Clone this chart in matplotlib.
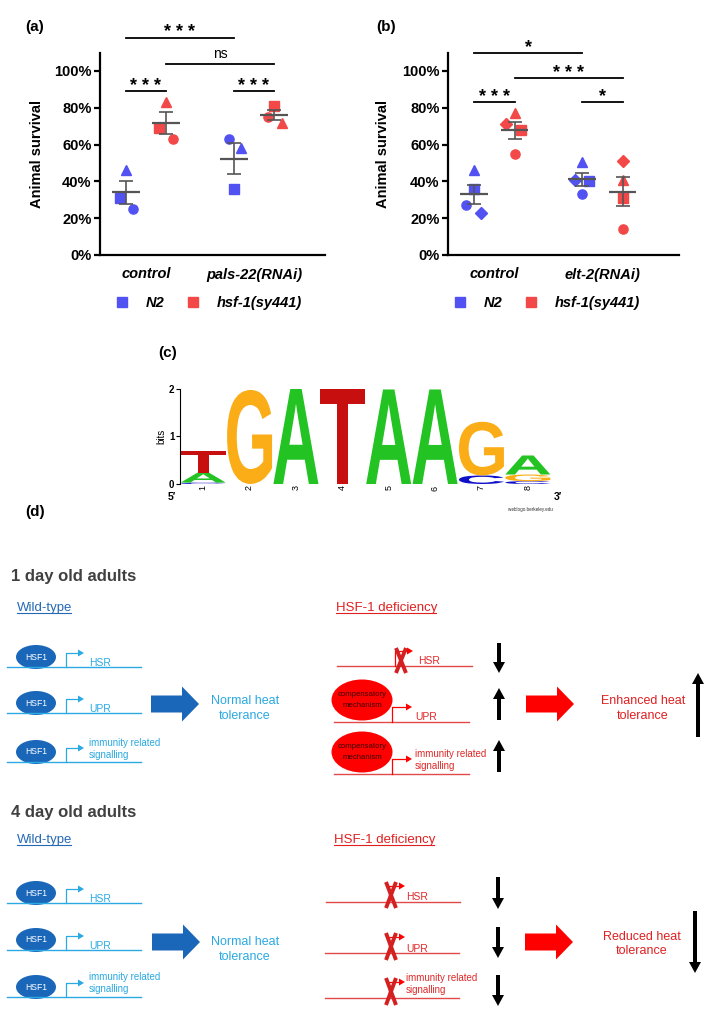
import numpy as np
import matplotlib
matplotlib.use('Agg')
import matplotlib.pyplot as plt
from matplotlib.patches import Ellipse, FancyArrow, PathPatch, Polygon
from matplotlib.textpath import TextPath
from matplotlib.font_manager import FontProperties
from matplotlib.transforms import Affine2D
from matplotlib.lines import Line2D

plt.rcParams['font.family'] = ['Liberation Sans', 'DejaVu Sans']

W, H = 709, 1022
fig = plt.figure(figsize=(W / 100, H / 100), dpi=100)

# ---------------- data ----------------
strains = ['N2', 'hsf-1(sy441)']
groups_a = ['control', 'pals-22(RNAi)']
groups_b = ['control', 'elt-2(RNAi)']

# panel a : replicates as square, triangle, circle
shapes_a = ['s', '^', 'o']
a_control_n2 = [31, 46, 25]
a_control_hsf = [69, 83, 63]
a_pals_n2 = [36, 58, 63]
a_pals_hsf = [81, 72, 75]
jit_a = [[-0.15, 0.0, 0.17], [-0.17, 0.0, 0.17], [0.0, 0.17, -0.12], [0.0, 0.2, -0.15]]

# panel b : replicates as square, triangle, circle, diamond
shapes_b = ['s', '^', 'o', 'D']
b_control_n2 = [36, 46, 27, 23]
b_control_hsf = [68, 77, 55, 71]
b_elt_n2 = [40, 50.5, 33, 41]
b_elt_hsf = [31, 41, 14, 51]
jit_b = [[0.0, 0.0, -0.2, 0.17], [0.17, 0.0, 0.0, -0.2], [0.17, 0.0, 0.0, -0.17], [0.0, 0.0, 0.0, 0.0]]

# significance: (left, right, height, text)
sig_a = [(0, 2.7, 118, '* * *'), (1, 3.7, 104, 'ns'), (0, 1, 89, '* * *'), (2.7, 3.7, 89, '* * *')]
sig_b = [(0, 2.67, 110, '*'), (1, 3.67, 96, '* * *'), (0, 1, 83, '* * *'), (2.67, 3.67, 83, '*')]

# panel c : sequence logo, bits per letter and position
logo_pos = [1, 2, 3, 4, 5, 6, 7, 8]
logo_A = [0.21, 0, 2.0, 0, 1.99, 1.99, 0, 0.40]
logo_C = [0.03, 0, 0, 0, 0, 0, 0.18, 0.06]
logo_G = [0, 1.98, 0, 0, 0, 0, 1.13, 0.14]
logo_T = [0.45, 0, 0, 2.0, 0, 0, 0, 0]
logo_colors = {'A': '#22c322', 'C': '#1010c8', 'G': '#fbad17', 'T': '#c80f0f'}

# panel d : texts
genes = ['HSR', 'UPR', 'immunity related\nsignalling']
ages = ['1 day old adults', '4 day old adults']
outcomes = ['Enhanced heat\ntolerance', 'Reduced heat\ntolerance']

BLUE_M = '#5252f2'
RED_M = '#f24848'
GREY = '#555555'
DBLUE = '#1a67ba'
LBLUE = '#2aa9e2'
RED = '#ff0000'
LRED = '#e24a4a'


def px_axes(x0, y0, x1, y1):
    return fig.add_axes([x0 / W, 1 - y1 / H, (x1 - x0) / W, (y1 - y0) / H])


# overlay in pixel coords for diagram + labels
dg = fig.add_axes([0, 0, 1, 1], zorder=0)
dg.set_xlim(0, W)
dg.set_ylim(H, 0)
dg.axis('off')


def txt(x, y, s, **kw):
    dg.text(x, y, s, **kw)


# ---------------- panels a, b ----------------
def strip(ax, x, vals, jit, shapes, color):
    for v, j, m in zip(vals, jit, shapes):
        ax.plot(x + j, v, marker=m, ls='none', color=color,
                ms=5.8 if m == 'D' else 6.6, clip_on=False, zorder=2)
    mean = np.mean(vals)
    sem = np.std(vals, ddof=1) / np.sqrt(len(vals))
    ax.hlines(mean, x - 0.34, x + 0.34, color=GREY, lw=1.6, zorder=3)
    ax.errorbar(x, mean, yerr=sem, color=GREY, lw=1.2, capsize=5, capthick=1.2, zorder=3)


def sig(ax, x1, x2, y, s):
    ax.plot([x1, x2], [y, y], color='k', lw=1.3, clip_on=False)
    if s == 'ns':
        ax.annotate(s, xy=((x1 + x2) / 2, y), xytext=(0, 4), textcoords='offset points',
                    ha='center', va='baseline', fontsize=10, annotation_clip=False)
    else:
        ax.annotate(s, xy=((x1 + x2) / 2, y), xytext=(0, 0.5), textcoords='offset points',
                    ha='center', va='baseline', fontsize=13, fontweight='bold',
                    annotation_clip=False)


def survival_axes(box, xlim, xs, sets, jits, shapes, groups, sigs, lab_x, leg_c):
    ax = px_axes(*box)
    ax.set_facecolor('none')
    ax.set_xlim(*xlim)
    ax.set_ylim(0, 110)
    cols = [BLUE_M, RED_M, BLUE_M, RED_M]
    for x, vals, jit, c in zip(xs, sets, jits, cols):
        strip(ax, x, vals, jit, shapes, c)
    for s in sigs:
        sig(ax, *s)
    ax.spines[['top', 'right']].set_visible(False)
    ax.spines[['left', 'bottom']].set_linewidth(1.6)
    ax.set_yticks([0, 20, 40, 60, 80, 100])
    ax.set_yticklabels(['0%', '20%', '40%', '60%', '80%', '100%'],
                       fontsize=10.5, fontweight='bold')
    ax.tick_params(axis='y', length=4, width=1.6, pad=2)
    ax.set_xticks([(xs[0] + xs[1]) / 2, (xs[2] + xs[3]) / 2])
    ax.set_xticklabels(groups, fontsize=10.5, fontweight='bold', style='italic')
    ax.tick_params(axis='x', length=0, pad=9)
    ax.set_ylabel('Animal survival', fontsize=10.5, fontweight='bold')
    ax.yaxis.set_label_coords(lab_x, 0.5)
    handles = [Line2D([], [], marker='s', ls='none', color=BLUE_M, ms=7.5),
               Line2D([], [], marker='s', ls='none', color=RED_M, ms=7.5)]
    ax.legend(handles, strains, loc='center', ncol=2, frameon=False,
              bbox_to_anchor=(leg_c / W, 1 - 303 / H), bbox_transform=fig.transFigure,
              prop={'weight': 'bold', 'style': 'italic', 'size': 10.5},
              handlelength=0.8, handletextpad=1.2, columnspacing=1.6)
    return ax


ax_a = survival_axes((100, 52.6, 325, 255), (-0.65, 4.975), [0, 1, 2.7, 3.7],
                     [a_control_n2, a_control_hsf, a_pals_n2, a_pals_hsf], jit_a,
                     shapes_a, groups_a, sig_a, -0.25, 209)
ax_b = survival_axes((448, 52.6, 679, 255), (-0.642, 5.06), [0, 1, 2.67, 3.67],
                     [b_control_n2, b_control_hsf, b_elt_n2, b_elt_hsf], jit_b,
                     shapes_b, groups_b, sig_b, -0.25, 547)

txt(25, 27, '(a)', fontsize=11, fontweight='bold', va='center')
txt(376, 27, '(b)', fontsize=11, fontweight='bold', va='center')

# ---------------- panel c : logo ----------------
ax_c = px_axes(180, 389, 551, 484)
ax_c.set_facecolor('none')
ax_c.set_xlim(0.5, 8.5)
ax_c.set_ylim(0, 2)
fp = FontProperties(family='Liberation Sans', weight='bold')


def letter(ax, ch, x, y0, h, color):
    tp = TextPath((0, 0), ch, size=1, prop=fp)
    bb = tp.get_extents()
    tr = Affine2D().translate(-bb.x0, -bb.y0).scale(0.97 / bb.width, h / bb.height) \
        .translate(x - 0.485, y0)
    ax.add_patch(PathPatch(tr.transform_path(tp), fc=color, ec='none', lw=0))


for i, p in enumerate(logo_pos):
    stack = [('A', logo_A[i]), ('C', logo_C[i]), ('G', logo_G[i]), ('T', logo_T[i])]
    stack = sorted([s for s in stack if s[1] > 0], key=lambda s: s[1])
    y0 = 0
    for ch, h in stack:
        letter(ax_c, ch, p, y0, h, logo_colors[ch])
        y0 += h

ax_c.spines[['top', 'right', 'bottom']].set_visible(False)
ax_c.spines['left'].set_linewidth(0.8)
ax_c.set_yticks([0, 1, 2])
ax_c.set_yticklabels(['0', '1', '2'], fontsize=7, fontweight='bold')
ax_c.tick_params(axis='y', length=3, width=0.8, pad=1)
ax_c.set_xticks(logo_pos)
ax_c.set_xticklabels([str(p) for p in logo_pos], fontsize=6.5, rotation=90)
ax_c.tick_params(axis='x', length=0, pad=1)
ax_c.set_ylabel('bits', fontsize=7, labelpad=2)

txt(158, 353, '(c)', fontsize=11, fontweight='bold', va='center')
txt(172, 497, '5\u2032', fontsize=7.5, fontweight='bold', va='center', ha='center')
txt(558, 497, '3\u2032', fontsize=7.5, fontweight='bold', va='center', ha='center')
txt(508, 509, 'weblogo.berkeley.edu', fontsize=3.3, color='#333333', va='center')

# ---------------- panel d : diagram ----------------
txt(25, 512, '(d)', fontsize=11, fontweight='bold', va='center')
fp_reg = FontProperties(family='Liberation Sans')


def underlined(x, y, s, color, size=9.5):
    txt(x, y + 4.5, s, fontsize=size, color=color, va='baseline')
    w = TextPath((0, 0), s, size=size * 100 / 72, prop=fp_reg).get_extents().x1
    dg.plot([x, x + w], [y + 6.2, y + 6.2], color=color, lw=0.8)


def promoter(x, yline, ytop, x2, color):
    dg.plot([x, x, x2 - 5], [yline, ytop, ytop], color=color, lw=0.9)
    dg.add_patch(Polygon([[x2 - 6, ytop - 3.5], [x2, ytop], [x2 - 6, ytop + 3.5]],
                         closed=True, fc=color, ec='none'))


def gene_label(x, yline, s, color):
    lines = s.split('\n')
    if len(lines) == 1:
        txt(x, yline - 4.5, s, fontsize=7.5, color=color, va='center')
    else:
        txt(x, yline - 20, lines[0], fontsize=7, color=color, va='center')
        txt(x, yline - 8, lines[1], fontsize=7, color=color, va='center')


def two_lines(cx, cy, s, color):
    l1, l2 = s.split('\n')
    txt(cx, cy - 7.5, l1, fontsize=9, color=color, ha='center', va='center')
    txt(cx, cy + 7.5, l2, fontsize=9, color=color, ha='center', va='center')


def wt_row(ye, gene):
    dg.add_patch(Ellipse((36, ye), 40, 24, fc=DBLUE, ec='none'))
    txt(36, ye, 'HSF1', fontsize=6.2, color='white', ha='center', va='center')
    yl = ye + 10.5
    dg.plot([7, 141], [yl, yl], color=LBLUE, lw=1.0)
    promoter(66, yl, yl - 14.5, 84, LBLUE)
    gene_label(89, yl, gene, LBLUE)


def red_x(x, y0, y1):
    dg.plot([x - 5, x + 5], [y0, y1], color='#d42020', lw=2.8, solid_capstyle='butt')
    dg.plot([x + 5, x - 5], [y0, y1], color='#d42020', lw=2.8, solid_capstyle='butt')


def vert_arrow(x, y0, y1):
    dg.add_patch(FancyArrow(x, y0, 0, y1 - y0, width=4, head_width=12, head_length=11,
                            length_includes_head=True, fc='black', ec='none'))


def block_arrow(x0, x1, y, color):
    dg.add_patch(FancyArrow(x0, y, x1 - x0, 0, width=17, head_width=35, head_length=17,
                            length_includes_head=True, fc=color, ec='none'))


for k, age in enumerate(ages):
    ytitle = [576, 812][k]
    yhead = [607, 839][k]
    txt(11, ytitle, age, fontsize=12, fontweight='bold', color='#404040', va='center')
    underlined(17, yhead, 'Wild-type', '#2468b8')
    underlined([336, 334][k], yhead, 'HSF-1 deficiency', '#e02020')

# 1 day, wild-type
for ye, g in zip([657, 703, 752], genes):
    wt_row(ye, g)
block_arrow(151, 199, 704, DBLUE)
two_lines(245, 708.5, 'Normal heat\ntolerance', LBLUE)

# 1 day, hsf-1 deficiency
dg.plot([337, 472], [666, 666], color=LRED, lw=1.0)
promoter(395, 666, 651, 413, RED)
red_x(401, 648, 673)
gene_label(418, 666, genes[0], '#e02828')
for ye, yl, g in zip([700, 752], [722, 774], genes[1:]):
    dg.add_patch(Ellipse((362, ye), 61, 41, fc=RED, ec='none'))
    txt(362, ye - 5, 'compensatory', fontsize=5.6, color='#3a0000', ha='center', va='center')
    txt(362, ye + 5.5, 'mechanism', fontsize=5.6, color='#3a0000', ha='center', va='center')
    dg.plot([334, 469], [yl, yl], color=LRED, lw=1.0)
    promoter(392, yl, yl - 15, 412, RED)
    gene_label(415, yl, g, '#e02828')
vert_arrow(499, 643, 673)
vert_arrow(499, 720, 688)
vert_arrow(499, 772, 740)
block_arrow(526, 574, 704, RED)
two_lines(643, 708.5, outcomes[0], '#e02020')
vert_arrow(698, 737, 673)

# 4 day, wild-type
for ye, g in zip([893, 940, 987], genes):
    wt_row(ye, g)
block_arrow(152, 200, 942, DBLUE)
two_lines(245, 949.5, 'Normal heat\ntolerance', LBLUE)

# 4 day, hsf-1 deficiency
for yl, (x0, x1), (xa, xb) in zip([902, 953, 998], [(326, 460), (325, 459), (325, 459)],
                                  [(882, 908), (933, 960), (978, 1005)]):
    dg.plot([x0, x1], [yl, yl], color=LRED, lw=1.0)
    promoter(389, yl, xa + 4, 405, RED)
    red_x(391, xa, xb)
for yl, g in zip([902, 953, 998], genes):
    gene_label(406, yl, g, '#e02828')
vert_arrow(498, 877, 909)
vert_arrow(498, 927, 958)
vert_arrow(498, 975, 1006)
block_arrow(525, 573, 942, RED)
two_lines(642, 944, outcomes[1], '#e02020')
vert_arrow(695, 911, 973)

fig.savefig('out.png', dpi=100, facecolor='white')
